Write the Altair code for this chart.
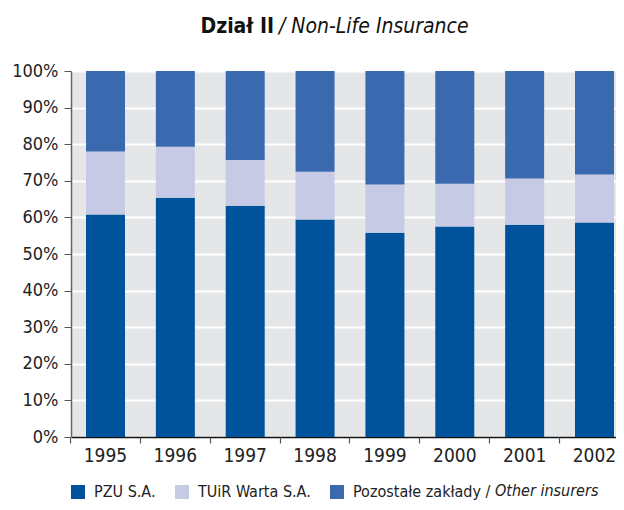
import altair as alt
import pandas as pd

years = ["1995", "1996", "1997", "1998", "1999", "2000", "2001", "2002"]
series = ["PZU S.A.", "TUiR Warta S.A.", "Pozostałe zakłady / Other insurers"]
pzu = [60.8, 65.4, 63.2, 59.4, 55.8, 57.5, 58.0, 58.6]
warta = [17.2, 13.9, 12.5, 13.1, 13.2, 11.7, 12.6, 13.1]
others = [22.0, 20.7, 24.3, 27.5, 31.0, 30.8, 29.4, 28.3]
colors = ["#00529b", "#c6cae4", "#3a69b0"]
y_ticks = [0, 10, 20, 30, 40, 50, 60, 70, 80, 90, 100]
title_bold = "Dział II"
title_italic = "/ Non-Life Insurance"
legend_plain = "Pozostałe zakłady /"
legend_italic = "Other insurers"

FONT = "Liberation Sans Narrow, DejaVu Sans Condensed, sans-serif"

rows = []
for i, s in enumerate(series):
    vals = [pzu, warta, others][i]
    for y, v in zip(years, vals):
        rows.append({"year": y, "series": s, "share": v, "idx": i})
df = pd.DataFrame(rows)

W, H = 545, 366
xscale = alt.Scale(paddingInner=0.4417, paddingOuter=0.1217, align=0.882)

bars = alt.Chart(df).mark_bar().encode(
    x=alt.X("year:N", title=None, scale=xscale,
            axis=alt.Axis(orient="bottom", labelAngle=0, labelFont=FONT, labelFontSize=19,
                          labelColor="#222", labelPadding=9, ticks=False,
                          domainColor="#111", domainWidth=1.5, grid=False)),
    y=alt.Y("share:Q", stack="zero", title=None,
            scale=alt.Scale(domain=[0, 100], nice=False),
            axis=alt.Axis(values=y_ticks, labelExpr="datum.value + '%'", labelFont=FONT,
                          labelFontSize=18, labelColor="#222", labelPadding=6, tickSize=7,
                          tickColor="#555", domainColor="#666", domainWidth=1.5,
                          grid=True, gridColor="#ffffff", gridWidth=2)),
    color=alt.Color("series:N",
                    scale=alt.Scale(domain=series, range=colors),
                    legend=alt.Legend(orient="none", legendX=-1, legendY=413, direction="horizontal",
                                      title=None, symbolType="square", symbolSize=196,
                                      symbolStrokeWidth=0, labelFont=FONT, labelFontSize=16,
                                      labelColor="#222", labelOffset=8, columnPadding=18,
                                      labelLimit=400,
                                      labelExpr=f"datum.label == '{series[2]}' ? '{legend_plain}' : datum.label")),
    order=alt.Order("idx:Q", sort="ascending"),
)

tick_axis = alt.Chart(pd.DataFrame({"year": years})).mark_point(opacity=0).encode(
    x=alt.X("year:N", title=None,
            axis=alt.Axis(orient="bottom", bandPosition=-0.396, labels=False, domain=False,
                          ticks=True, tickSize=6, tickColor="#555", tickWidth=1.2, grid=False)),
)

t1 = alt.Chart(pd.DataFrame({"t": [title_bold]})).mark_text(
    font=FONT, fontSize=21, fontWeight="bold", align="right", baseline="alphabetic", color="#111"
).encode(text="t:N", x=alt.value(203), y=alt.value(-38))

t2 = alt.Chart(pd.DataFrame({"t": [title_italic]})).mark_text(
    font=FONT, fontSize=21, fontStyle="italic", align="left", baseline="alphabetic", color="#111"
).encode(text="t:N", x=alt.value(208), y=alt.value(-38))

t3 = alt.Chart(pd.DataFrame({"t": [legend_italic]})).mark_text(
    font=FONT, fontSize=16, fontStyle="italic", align="left", baseline="middle", color="#222"
).encode(text="t:N", x=alt.value(424), y=alt.value(420))

chart = alt.layer(bars, tick_axis, t1, t2, t3).resolve_axis(x="independent").properties(
    width=W, height=H,
    autosize=alt.AutoSizeParams(type="none"),
    padding={"left": 63, "top": 63, "right": 0, "bottom": 64},
    background="#ffffff",
).configure_view(fill="#e5e6e8", stroke=None)

chart.save("out.html", embed_options={"renderer": "svg", "actions": False})
